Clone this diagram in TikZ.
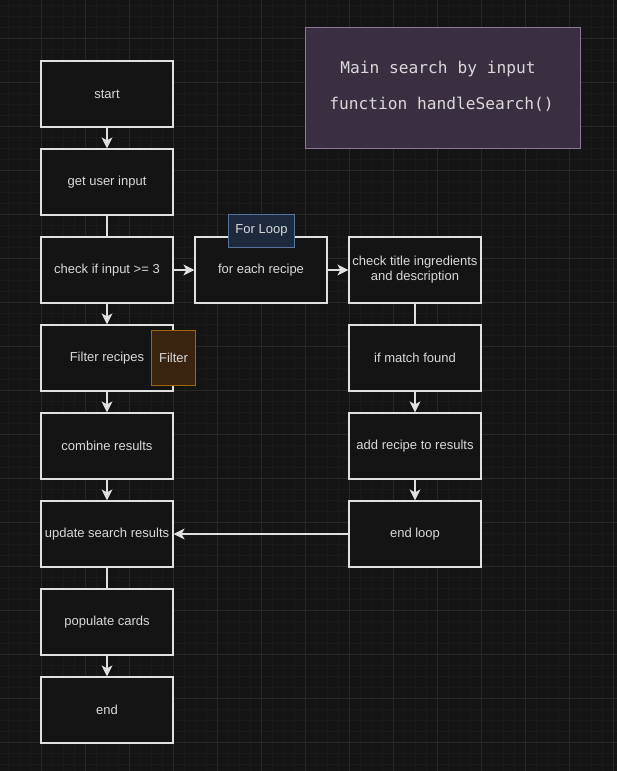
\documentclass[tikz,border=0pt]{standalone}
\usepackage{fontspec}
\setmainfont{Liberation Sans}
\newfontfamily\codefont{DejaVu Sans Mono}
\usetikzlibrary{arrows.meta}
\definecolor{bgc}{HTML}{141414}
\definecolor{minorc}{HTML}{1A1A1A}
\definecolor{majorc}{HTML}{282828}
\definecolor{boxfill}{HTML}{141414}
\definecolor{boxline}{HTML}{E0E0E0}
\definecolor{txt}{HTML}{D9D9D9}
\definecolor{loopfill}{HTML}{1D2A3E}
\definecolor{loopline}{HTML}{56739B}
\definecolor{filtfill}{HTML}{3A2410}
\definecolor{filtline}{HTML}{A0660E}
\definecolor{mainfill}{HTML}{3A2F40}
\definecolor{mainline}{HTML}{8E7899}
\tikzset{
  stepbox/.style={draw=boxline, fill=boxfill, line width=1.2pt, minimum width=132pt, minimum height=66pt, inner sep=0pt, text=txt, font=\fontsize{13}{15}\selectfont, align=center},
  tagbox/.style={line width=1pt, inner sep=0pt, text=txt, font=\fontsize{13}{15}\selectfont},
  conn/.style={draw=boxline, line width=1.2pt},
  arr/.style={conn, -{Stealth[length=11pt,width=11pt,inset=3pt]}},
}
\begin{document}
\begin{tikzpicture}[x=1pt,y=-1pt]
\fill[bgc] (0,0) rectangle (617,771);
\useasboundingbox (0,0) rectangle (617,771);
% grid
\foreach \i in {0,...,56} {
  \draw[minorc, line width=0.6pt] ({8+11*\i},0) -- ({8+11*\i},771);
}
\foreach \i in {0,...,70} {
  \draw[minorc, line width=0.6pt] (0,{5+11*\i}) -- (617,{5+11*\i});
}
\foreach \i in {0,...,14} {
  \draw[majorc, line width=0.8pt] ({41+44*\i},0) -- ({41+44*\i},771);
}
\foreach \i in {0,...,17} {
  \draw[majorc, line width=0.8pt] (0,{38+44*\i}) -- (617,{38+44*\i});
}
% main title box
\node[draw=mainline, fill=mainfill, line width=1pt, minimum width=275pt, minimum height=121pt, inner sep=0pt] (title) at (442.5,87.5) {};
\node[text=txt, font=\codefont\fontsize{16.2}{19}\selectfont, inner sep=0pt] (t1) at (438,69.5) {Main search by input};
\node[text=txt, font=\codefont\fontsize{16.2}{19}\selectfont, inner sep=0pt] (t2) at (441.5,104) {function handleSearch()};
% left column
\node[stepbox] (start) at (107,94) {start};
\node[stepbox] (input) at (107,182) {get user input};
\node[stepbox] (check) at (107,270) {check if input >= 3};
\node[stepbox] (filter) at (107,358) {Filter recipes};
\node[stepbox] (combine) at (107,446) {combine results};
\node[stepbox] (update) at (107,534) {update search results};
\node[stepbox] (populate) at (107,622) {populate cards};
\node[stepbox] (end) at (107,710) {end};
% middle / right column
\node[stepbox] (foreach) at (261,270) {for each recipe};
\node[stepbox] (ctitle) at (415,270) {check title ingredients\\and description};
\node[stepbox] (match) at (415,358) {if match found};
\node[stepbox] (add) at (415,446) {add recipe to results};
\node[stepbox] (endloop) at (415,534) {end loop};
% tags
\node[tagbox, draw=loopline, fill=loopfill, minimum width=66pt, minimum height=33pt] (looptag) at (261.5,230.5) {For Loop};
\node[tagbox, draw=filtline, fill=filtfill, minimum width=44pt, minimum height=55pt] (filttag) at (173.5,358) {Filter};
% connectors
\draw[arr] (start) -- (input);
\draw[conn] (input) -- (check);
\draw[arr] (check) -- (filter);
\draw[arr] (check) -- (foreach);
\draw[arr] (foreach) -- (ctitle);
\draw[conn] (ctitle) -- (match);
\draw[arr] (match) -- (add);
\draw[arr] (add) -- (endloop);
\draw[arr] (endloop) -- (update);
\draw[arr] (filter) -- (combine);
\draw[arr] (combine) -- (update);
\draw[conn] (update) -- (populate);
\draw[arr] (populate) -- (end);
\end{tikzpicture}
\end{document}
